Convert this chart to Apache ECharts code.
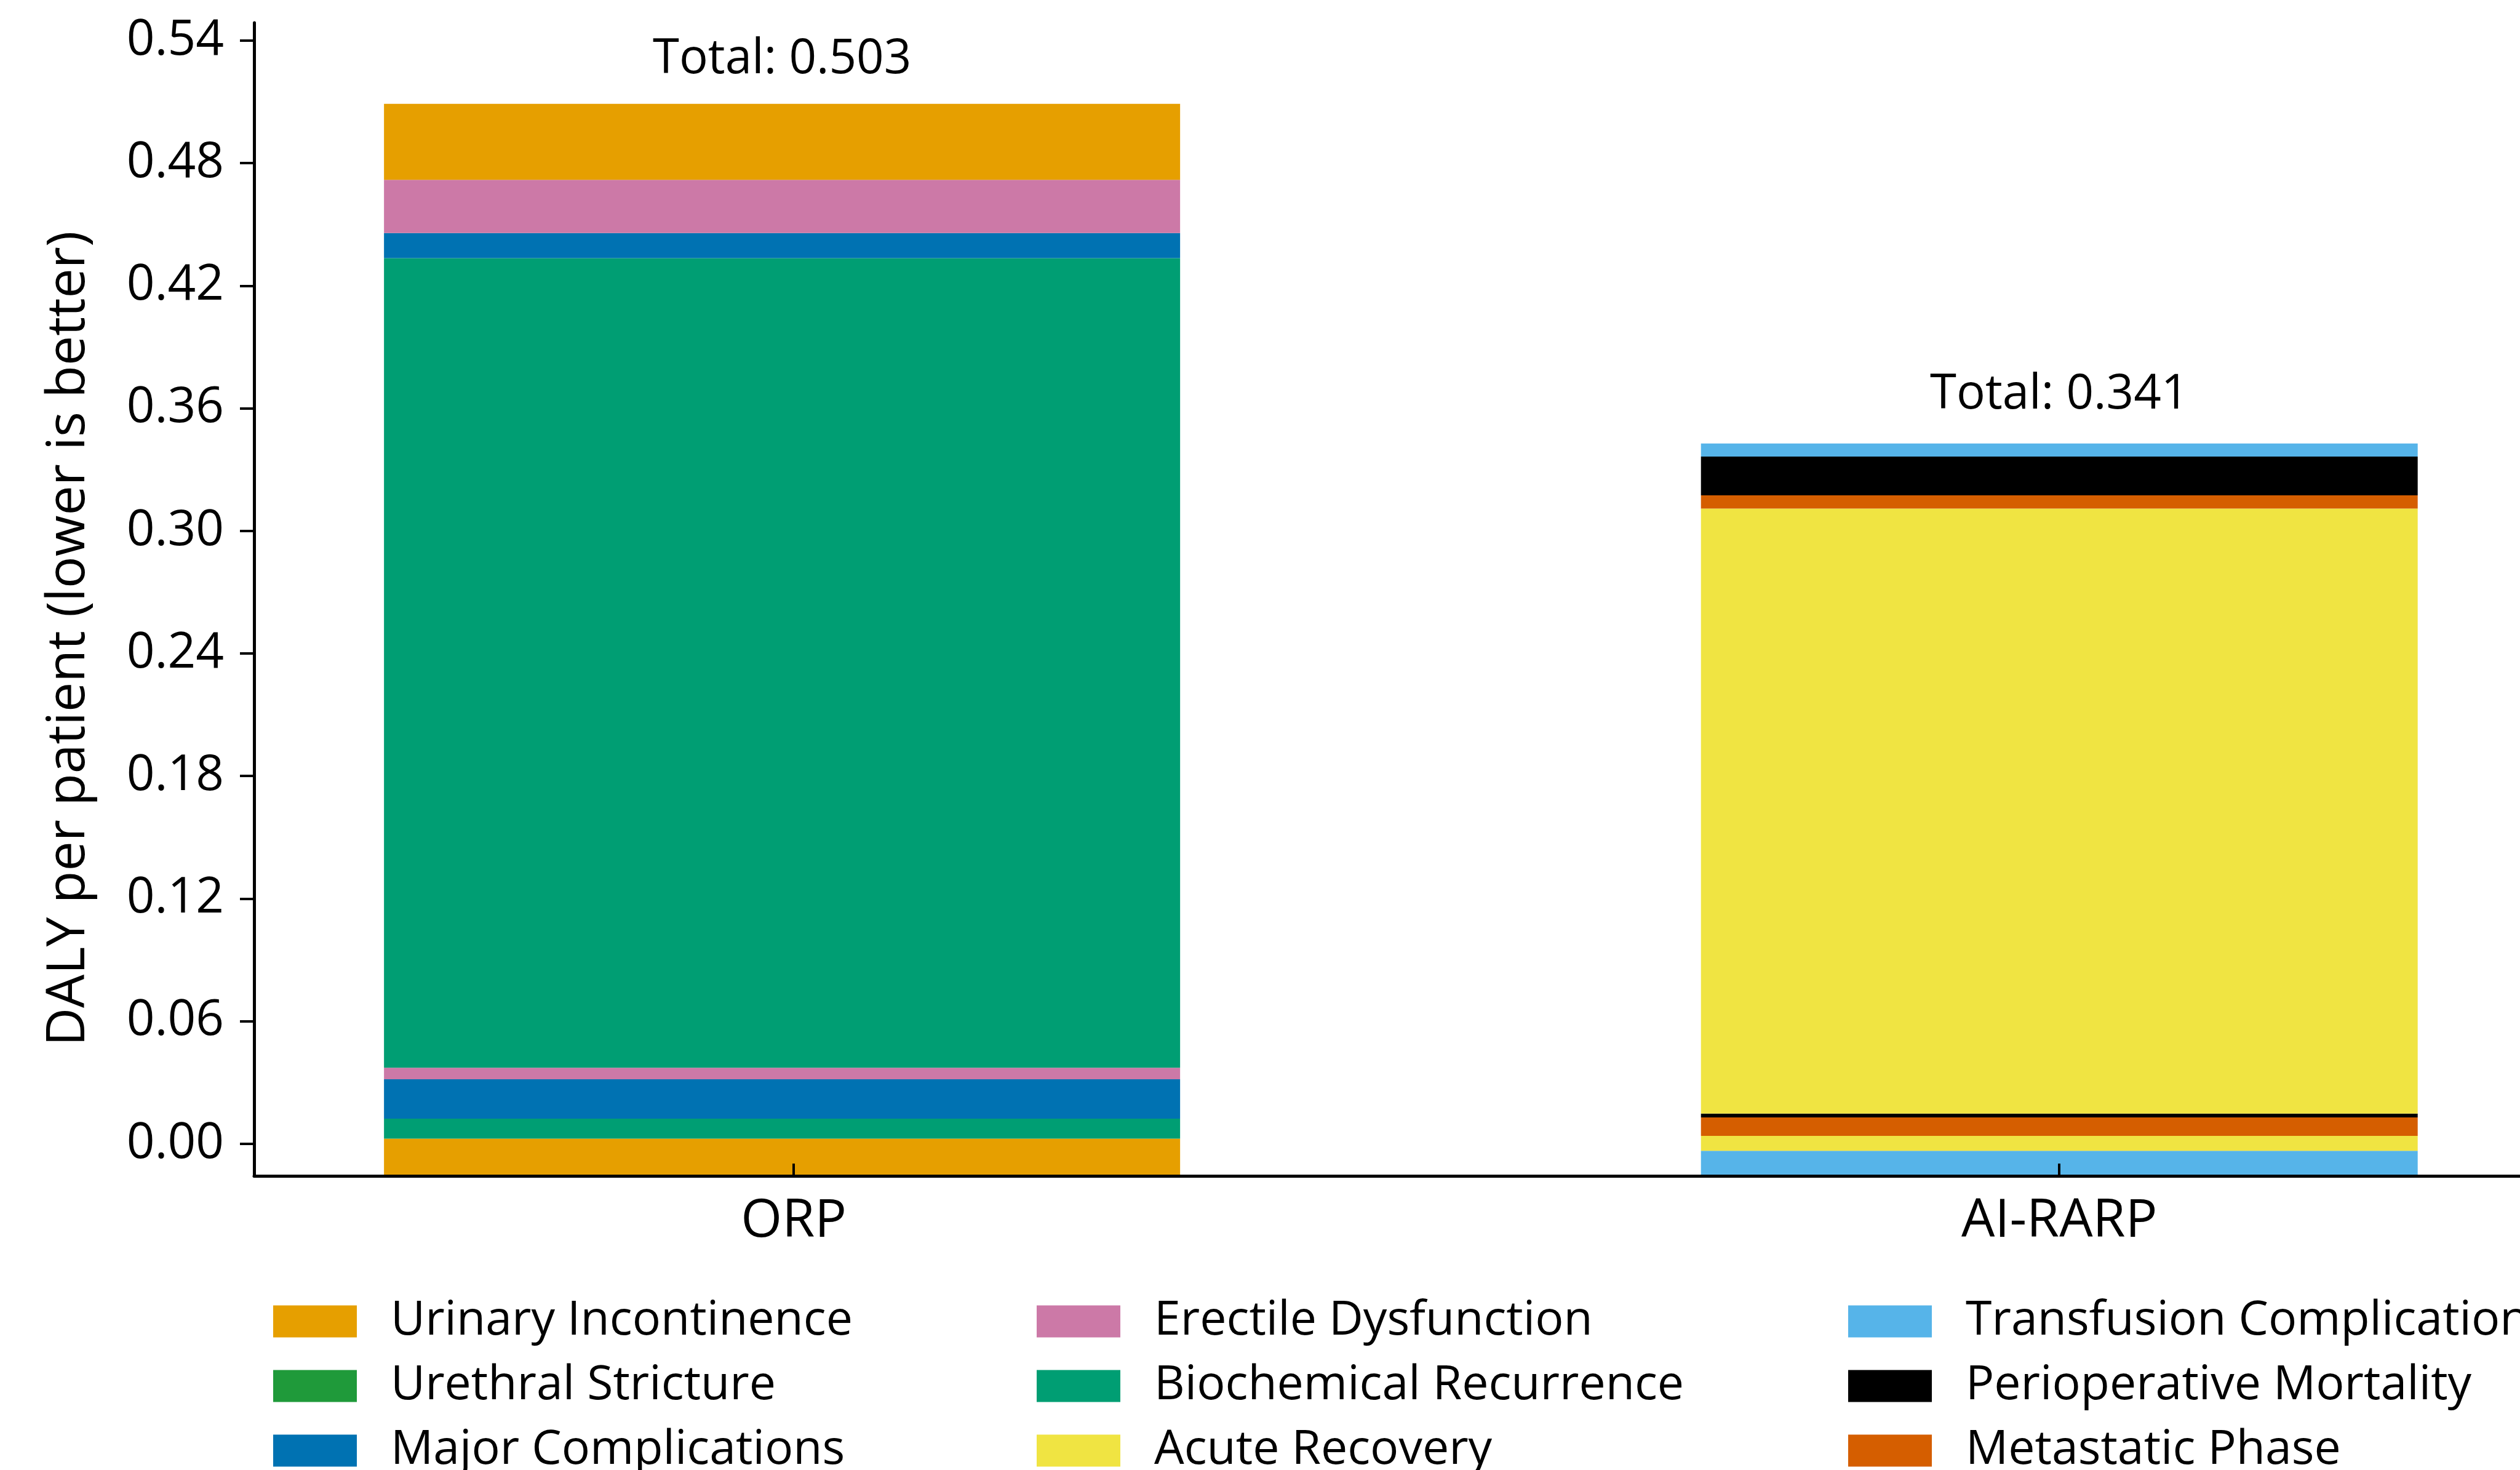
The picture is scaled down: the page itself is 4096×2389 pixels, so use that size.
<!DOCTYPE html>
<html><head><meta charset="utf-8">
<script src="https://cdn.jsdelivr.net/npm/echarts@6/dist/echarts.min.js"></script>
<style>html,body{margin:0;padding:0;background:#fff}#c{width:4096px;height:2389px}</style>
</head><body><div id="c"></div>
<script>
// ---- data ----
const categories = ['ORP', 'AI-RARP'];
const components = ['Urinary Incontinence', 'Urethral Stricture', 'Major Complications',
  'Erectile Dysfunction', 'Biochemical Recurrence', 'Acute Recovery',
  'Transfusion Complication', 'Perioperative Mortality', 'Metastatic Phase'];
const stackBase = [-0.0157, -0.0157];
const orpSegments = ['Urinary Incontinence', 'Biochemical Recurrence', 'Major Complications', 'Erectile Dysfunction',
  'Biochemical Recurrence', 'Major Complications', 'Erectile Dysfunction', 'Urinary Incontinence'];
const orpValues = [0.0182, 0.0098, 0.0193, 0.0056, 0.3963, 0.0123, 0.0260, 0.0372];
const aiSegments = ['Transfusion Complication', 'Acute Recovery', 'Metastatic Phase', 'Perioperative Mortality',
  'Acute Recovery', 'Metastatic Phase', 'Perioperative Mortality', 'Transfusion Complication'];
const aiValues = [0.0123, 0.0073, 0.0090, 0.0019, 0.2961, 0.0065, 0.0190, 0.0064];
const totals = [0.503, 0.341];
const yTicks = [0, 0.06, 0.12, 0.18, 0.24, 0.30, 0.36, 0.42, 0.48, 0.54];
const xTicks = [0, 1];
const xRange = [-0.4264, 1.364];
const yRange = [-0.0157, 0.5487];
const legendColumns = [[0, 1, 2], [3, 4, 5], [6, 7, 8]];

// ---- styles ----
const palette = ['#E69F00', '#1F9A3A', '#0072B2', '#CC79A7', '#009E73', '#F0E442', '#56B4E9', '#000000', '#D55E00'];
const FONT = 'Open Sans';
const barWidths = [1294, 1165];
const barShiftPx = [-19, 0];
const labelDistances = [33, 40];
const legendLefts = [444, 1685, 3004];
const G = { left: 413, top: 37, right: 0, bottom: 478 };
// extra grids for the bars: category 0 / 1 sit on the visible ticks
const plotW = 4096 - G.left - G.right;
const unitPx = plotW / (xRange[1] - xRange[0]);
const catLeft = G.left + (xTicks[0] - xRange[0]) * unitPx;
const catWidth = (xTicks[1] - xTicks[0]) * unitPx;

function slot(ci, v) { return categories.map((c, j) => j === ci ? v : '-'); }

function buildStack(ci, segs, vals) {
  const common = { type: 'bar', xAxisIndex: ci + 1, yAxisIndex: ci + 1, stack: 's' + ci, stackStrategy: 'all',
    barWidth: barWidths[ci], clip: false };
  const out = [Object.assign({}, common, {
    name: '__base', data: slot(ci, stackBase[ci]),
    itemStyle: { color: 'rgba(0,0,0,0)' }, silent: true, legendHoverLink: false
  })];
  segs.forEach((name, k) => {
    const s = Object.assign({}, common, {
      name: name, data: slot(ci, vals[k]),
      itemStyle: { color: palette[components.indexOf(name)] }
    });
    if (k === segs.length - 1) {
      s.label = {
        show: true, position: 'top', distance: labelDistances[ci],
        formatter: 'Total: ' + totals[ci].toFixed(3),
        fontSize: 78, fontFamily: FONT, color: '#000'
      };
    }
    out.push(s);
  });
  return out;
}

const series = buildStack(0, orpSegments, orpValues).concat(buildStack(1, aiSegments, aiValues));
// legend anchor for the component without a visible segment
series.push({ type: 'bar', name: 'Urethral Stricture', xAxisIndex: 1, yAxisIndex: 1, stack: 's0', stackStrategy: 'all',
  barWidth: barWidths[0], clip: false, data: [], itemStyle: { color: palette[1] } });

const chart = echarts.init(document.getElementById('c'), null, { renderer: 'canvas' });
chart.setOption({
  backgroundColor: '#fff',
  animation: false,
  grid: [
    { left: G.left, top: G.top, right: G.right, bottom: G.bottom },
    { left: catLeft + barShiftPx[0], top: G.top, width: catWidth, bottom: G.bottom },
    { left: catLeft + barShiftPx[1], top: G.top, width: catWidth, bottom: G.bottom }
  ],
  xAxis: [{
    gridIndex: 0, type: 'value', min: xRange[0], max: xRange[1], z: 5,
    splitLine: { show: false },
    axisLine: { show: true, onZero: false, lineStyle: { color: '#000', width: 5 } },
    axisTick: { show: true, inside: true, length: 20, customValues: xTicks, lineStyle: { color: '#000', width: 4 } },
    axisLabel: { customValues: xTicks, formatter: v => categories[Math.round(v)], fontSize: 86, fontFamily: FONT, color: '#000', margin: 31 }
  }, {
    gridIndex: 1, type: 'category', data: categories, boundaryGap: false, show: false
  }, {
    gridIndex: 2, type: 'category', data: categories, boundaryGap: false, show: false
  }],
  yAxis: [{
    gridIndex: 0, type: 'value', min: yRange[0], max: yRange[1], z: 5,
    name: 'DALY per patient (lower is better)', nameLocation: 'middle', nameGap: 258,
    nameTextStyle: { fontSize: 86, fontFamily: FONT, color: '#000', padding: [0, 128, 0, 0] },
    splitLine: { show: false },
    axisLine: { show: true, onZero: false, lineStyle: { color: '#000', width: 5 } },
    axisTick: { show: true, length: 23, customValues: yTicks, lineStyle: { color: '#000', width: 4 } },
    axisLabel: { customValues: yTicks, formatter: v => v.toFixed(2), fontSize: 80, fontFamily: FONT, color: '#000', margin: 49 }
  }, {
    gridIndex: 1, type: 'value', min: yRange[0], max: yRange[1], show: false
  }, {
    gridIndex: 2, type: 'value', min: yRange[0], max: yRange[1], show: false
  }],
  legend: legendColumns.map((col, i) => ({
    orient: 'vertical', left: legendLefts[i], top: 2109, height: 300, padding: 0,
    itemWidth: 136, itemHeight: 52, itemGap: 28, icon: 'rect', selectedMode: false,
    data: col.map(k => components[k]),
    textStyle: { fontSize: 77, fontFamily: FONT, color: '#000', lineHeight: 72, padding: [0, 0, 0, 50] }
  })),
  series: series
});
</script></body></html>
